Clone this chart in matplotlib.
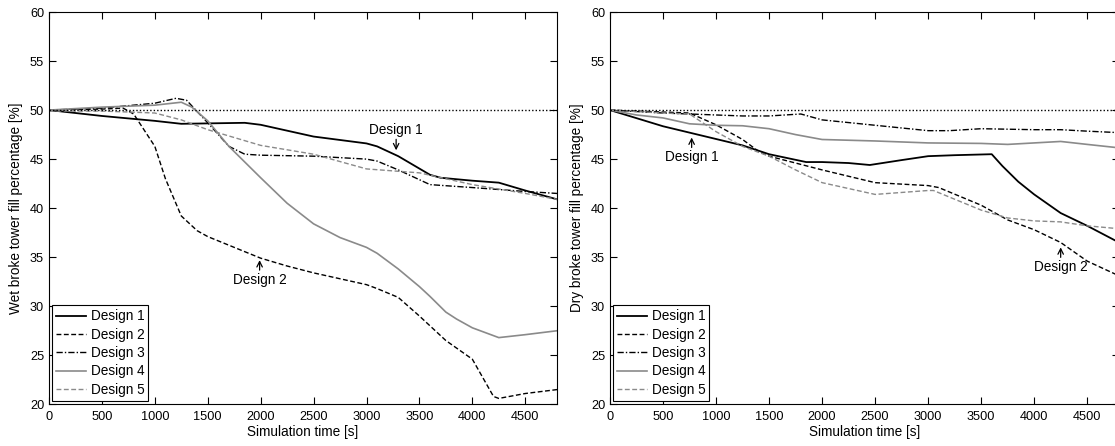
import matplotlib
matplotlib.use("Agg")
import matplotlib.pyplot as plt

plt.rcParams['font.family'] = ['Liberation Sans', 'DejaVu Sans']
plt.rcParams['font.size'] = 9.8

# ---- Wet broke tower (left) ----
wet_d1_t = [0, 500, 1000, 1250, 1850, 2000, 2500, 3000, 3100, 3300, 3600, 3700, 4000, 4250, 4500, 4800]
wet_d1_v = [50.0, 49.4, 48.9, 48.6, 48.7, 48.5, 47.3, 46.6, 46.3, 45.3, 43.4, 43.1, 42.8, 42.6, 41.8, 40.9]

wet_d2_t = [0, 500, 700, 800, 1000, 1100, 1250, 1400, 1500, 1750, 2000, 2250, 2500, 2750, 3000, 3100,
            3300, 3500, 3750, 4000, 4200, 4250, 4500, 4800]
wet_d2_v = [50.0, 50.1, 50.2, 49.6, 46.3, 43.0, 39.2, 37.7, 37.1, 36.0, 34.9, 34.1, 33.4, 32.8, 32.2, 31.8,
            30.9, 29.0, 26.5, 24.6, 20.8, 20.6, 21.1, 21.5]

wet_d3_t = [0, 500, 1000, 1200, 1300, 1500, 1700, 1850, 2000, 2500, 3000, 3100, 3300, 3600, 4000, 4250, 4500, 4800]
wet_d3_v = [50.0, 50.2, 50.7, 51.2, 51.0, 48.7, 46.3, 45.5, 45.4, 45.3, 45.0, 44.8, 43.9, 42.4, 42.1, 41.9, 41.7, 41.5]

wet_d4_t = [0, 500, 1000, 1250, 1350, 1500, 1700, 2000, 2250, 2500, 2750, 3000, 3100, 3300, 3500, 3600,
            3750, 3850, 4000, 4250, 4500, 4800]
wet_d4_v = [50.0, 50.3, 50.5, 50.8, 50.3, 48.9, 46.3, 43.1, 40.5, 38.4, 37.0, 36.0, 35.4, 33.8, 32.0, 31.0,
            29.4, 28.7, 27.8, 26.8, 27.1, 27.5]

wet_d5_t = [0, 500, 1000, 1250, 1500, 2000, 2500, 3000, 3250, 3500, 4000, 4500, 4800]
wet_d5_v = [49.9, 49.9, 49.7, 49.0, 48.0, 46.4, 45.5, 44.0, 43.8, 43.6, 42.4, 41.5, 40.9]

# ---- Dry broke tower (right) ----
dry_d1_t = [0, 500, 750, 1000, 1250, 1500, 1850, 2000, 2250, 2450, 2750, 3000, 3250, 3600, 3700, 3850,
            4000, 4250, 4500, 4800]
dry_d1_v = [50.0, 48.35, 47.7, 47.05, 46.4, 45.5, 44.7, 44.7, 44.6, 44.4, 44.9, 45.3, 45.4, 45.5, 44.3, 42.7,
            41.4, 39.5, 38.2, 36.5]

dry_d2_t = [0, 500, 750, 1000, 1250, 1400, 1500, 2000, 2500, 3000, 3100, 3500, 3750, 4000, 4250, 4500, 4800]
dry_d2_v = [50.0, 49.8, 49.7, 48.5, 47.0, 45.8, 45.3, 43.9, 42.6, 42.3, 42.1, 40.3, 38.8, 37.8, 36.5, 34.6, 33.1]

dry_d3_t = [0, 500, 750, 1000, 1250, 1500, 1800, 2000, 2500, 3000, 3200, 3500, 4000, 4250, 4500, 4800]
dry_d3_v = [50.0, 49.7, 49.6, 49.5, 49.4, 49.4, 49.6, 49.0, 48.45, 47.9, 47.9, 48.1, 48.0, 48.0, 47.85, 47.7]

dry_d4_t = [0, 250, 500, 750, 1000, 1250, 1500, 1750, 2000, 2500, 3000, 3500, 3750, 4000, 4250, 4500, 4800]
dry_d4_v = [50.0, 49.5, 49.2, 48.6, 48.45, 48.4, 48.1, 47.5, 47.0, 46.85, 46.65, 46.6, 46.5, 46.65, 46.8, 46.5, 46.15]

dry_d5_t = [0, 500, 750, 1000, 1250, 1500, 1750, 2000, 2500, 3000, 3050, 3500, 3750, 4000, 4250, 4500, 4800]
dry_d5_v = [50.0, 49.7, 49.6, 47.8, 46.3, 45.3, 43.9, 42.6, 41.4, 41.8, 41.8, 39.8, 39.0, 38.7, 38.6, 38.2, 37.9]

labels = ["Design 1", "Design 2", "Design 3", "Design 4", "Design 5"]
setpoint = 50
xticks = [0, 500, 1000, 1500, 2000, 2500, 3000, 3500, 4000, 4500]
yticks = [20, 25, 30, 35, 40, 45, 50, 55, 60]

GRAY = "#8a8a8a"
styles = [
    dict(color="black", ls="-", lw=1.3),
    dict(color="black", ls=(0, (3.5, 1.8)), lw=1.0),
    dict(color="black", ls=(0, (4.5, 1.5, 1, 1.5)), lw=1.0),
    dict(color=GRAY, ls="-", lw=1.2),
    dict(color=GRAY, ls=(0, (3.5, 1.8)), lw=1.0),
]

W, H = 1115, 446
fig = plt.figure(figsize=(W / 100, H / 100), dpi=100)
bottom = (H - 404.3) / H
height = (404.3 - 12) / H
axL = fig.add_axes([49 / W, bottom, (557 - 49) / W, height])
axR = fig.add_axes([610 / W, bottom, (1119 - 610) / W, height])

wet = [(wet_d1_t, wet_d1_v), (wet_d2_t, wet_d2_v), (wet_d3_t, wet_d3_v), (wet_d4_t, wet_d4_v), (wet_d5_t, wet_d5_v)]
dry = [(dry_d1_t, dry_d1_v), (dry_d2_t, dry_d2_v), (dry_d3_t, dry_d3_v), (dry_d4_t, dry_d4_v), (dry_d5_t, dry_d5_v)]

for ax, series, ylab in [(axL, wet, "Wet broke tower fill percentage [%]"),
                         (axR, dry, "Dry broke tower fill percentage [%]")]:
    for (t, v), lab, st in zip(series, labels, styles):
        ax.plot(t, v, label=lab, **st)
    ax.axhline(setpoint, color="black", ls=(0, (1, 1.5)), lw=1.0)
    ax.set_xlim(0, 4800)
    ax.set_ylim(20, 60)
    ax.set_xticks(xticks)
    ax.set_yticks(yticks)
    ax.tick_params(direction="in", top=True, right=True, length=5, width=0.8, labelsize=9.2)
    ax.tick_params(axis="x", pad=4.5)
    ax.tick_params(axis="y", pad=3.5)
    for s in ax.spines.values():
        s.set_linewidth(0.8)
    ax.set_xlabel("Simulation time [s]", labelpad=1.5)
    ax.set_ylabel(ylab)
    ax.yaxis.set_label_coords(-0.051, 0.5)
    leg = ax.legend(loc="lower left", frameon=True, fancybox=False, framealpha=1,
                    edgecolor="black", handlelength=2.2, handletextpad=0.3,
                    borderaxespad=0.25, labelspacing=0.32, borderpad=0.3)
    leg.get_frame().set_linewidth(0.8)

arrow = dict(arrowstyle="->", color="black", lw=0.9, shrinkA=0, shrinkB=0)
axL.annotate("Design 1", xy=(3280, 45.9), xytext=(3280, 47.3), ha="center", va="bottom",
             arrowprops=arrow)
axL.annotate("Design 2", xy=(1990, 34.7), xytext=(1990, 33.4), ha="center", va="top",
             arrowprops=arrow)
axR.annotate("Design 1", xy=(770, 47.2), xytext=(770, 45.9), ha="center", va="top",
             arrowprops=arrow)
axR.annotate("Design 2", xy=(4250, 36.0), xytext=(4250, 34.7), ha="center", va="top",
             arrowprops=arrow)

fig.savefig("out.png", dpi=100)
